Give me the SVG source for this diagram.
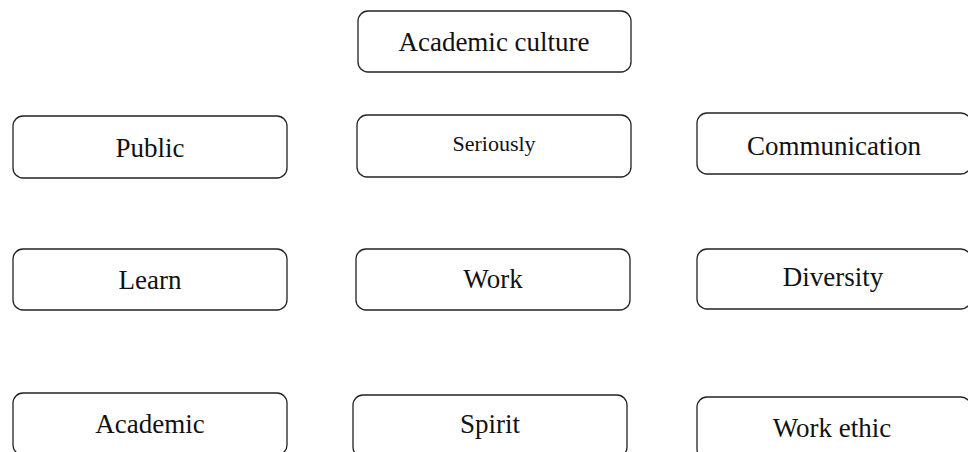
<svg xmlns="http://www.w3.org/2000/svg" width="968" height="452" viewBox="0 0 968 452">
<style>
.box{fill:#fff;stroke:#222;stroke-width:1.3}
.t{font-family:"Liberation Serif","Times New Roman",serif;font-size:27px;fill:#111;text-anchor:middle}
.s{font-size:22px}
</style>
<rect width="968" height="452" fill="#fff"/>
<g id="connectors"></g>
<g id="n-academic-culture"><rect class="box" x="358" y="11" width="273" height="61" rx="10"/><text class="t" x="494" y="51">Academic culture</text></g>
<g id="n-public"><rect class="box" x="13" y="116" width="274" height="62" rx="10"/><text class="t" x="150" y="157">Public</text></g>
<g id="n-seriously"><rect class="box" x="357" y="115" width="274" height="62" rx="10"/><text class="t s" x="494" y="151">Seriously</text></g>
<g id="n-communication"><rect class="box" x="697" y="113" width="274" height="61" rx="10"/><text class="t" x="834" y="155">Communication</text></g>
<g id="n-learn"><rect class="box" x="13" y="249" width="274" height="61" rx="10"/><text class="t" x="150" y="289">Learn</text></g>
<g id="n-work"><rect class="box" x="356" y="249" width="274" height="61" rx="10"/><text class="t" x="493" y="288">Work</text></g>
<g id="n-diversity"><rect class="box" x="697" y="249" width="274" height="60" rx="10"/><text class="t" x="833" y="286">Diversity</text></g>
<g id="n-academic"><rect class="box" x="13" y="393" width="274" height="62" rx="10"/><text class="t" x="150" y="433">Academic</text></g>
<g id="n-spirit"><rect class="box" x="353" y="395" width="274" height="62" rx="10"/><text class="t" x="490" y="433">Spirit</text></g>
<g id="n-work-ethic"><rect class="box" x="697" y="397" width="274" height="62" rx="10"/><text class="t" x="832" y="437">Work ethic</text></g>
</svg>
